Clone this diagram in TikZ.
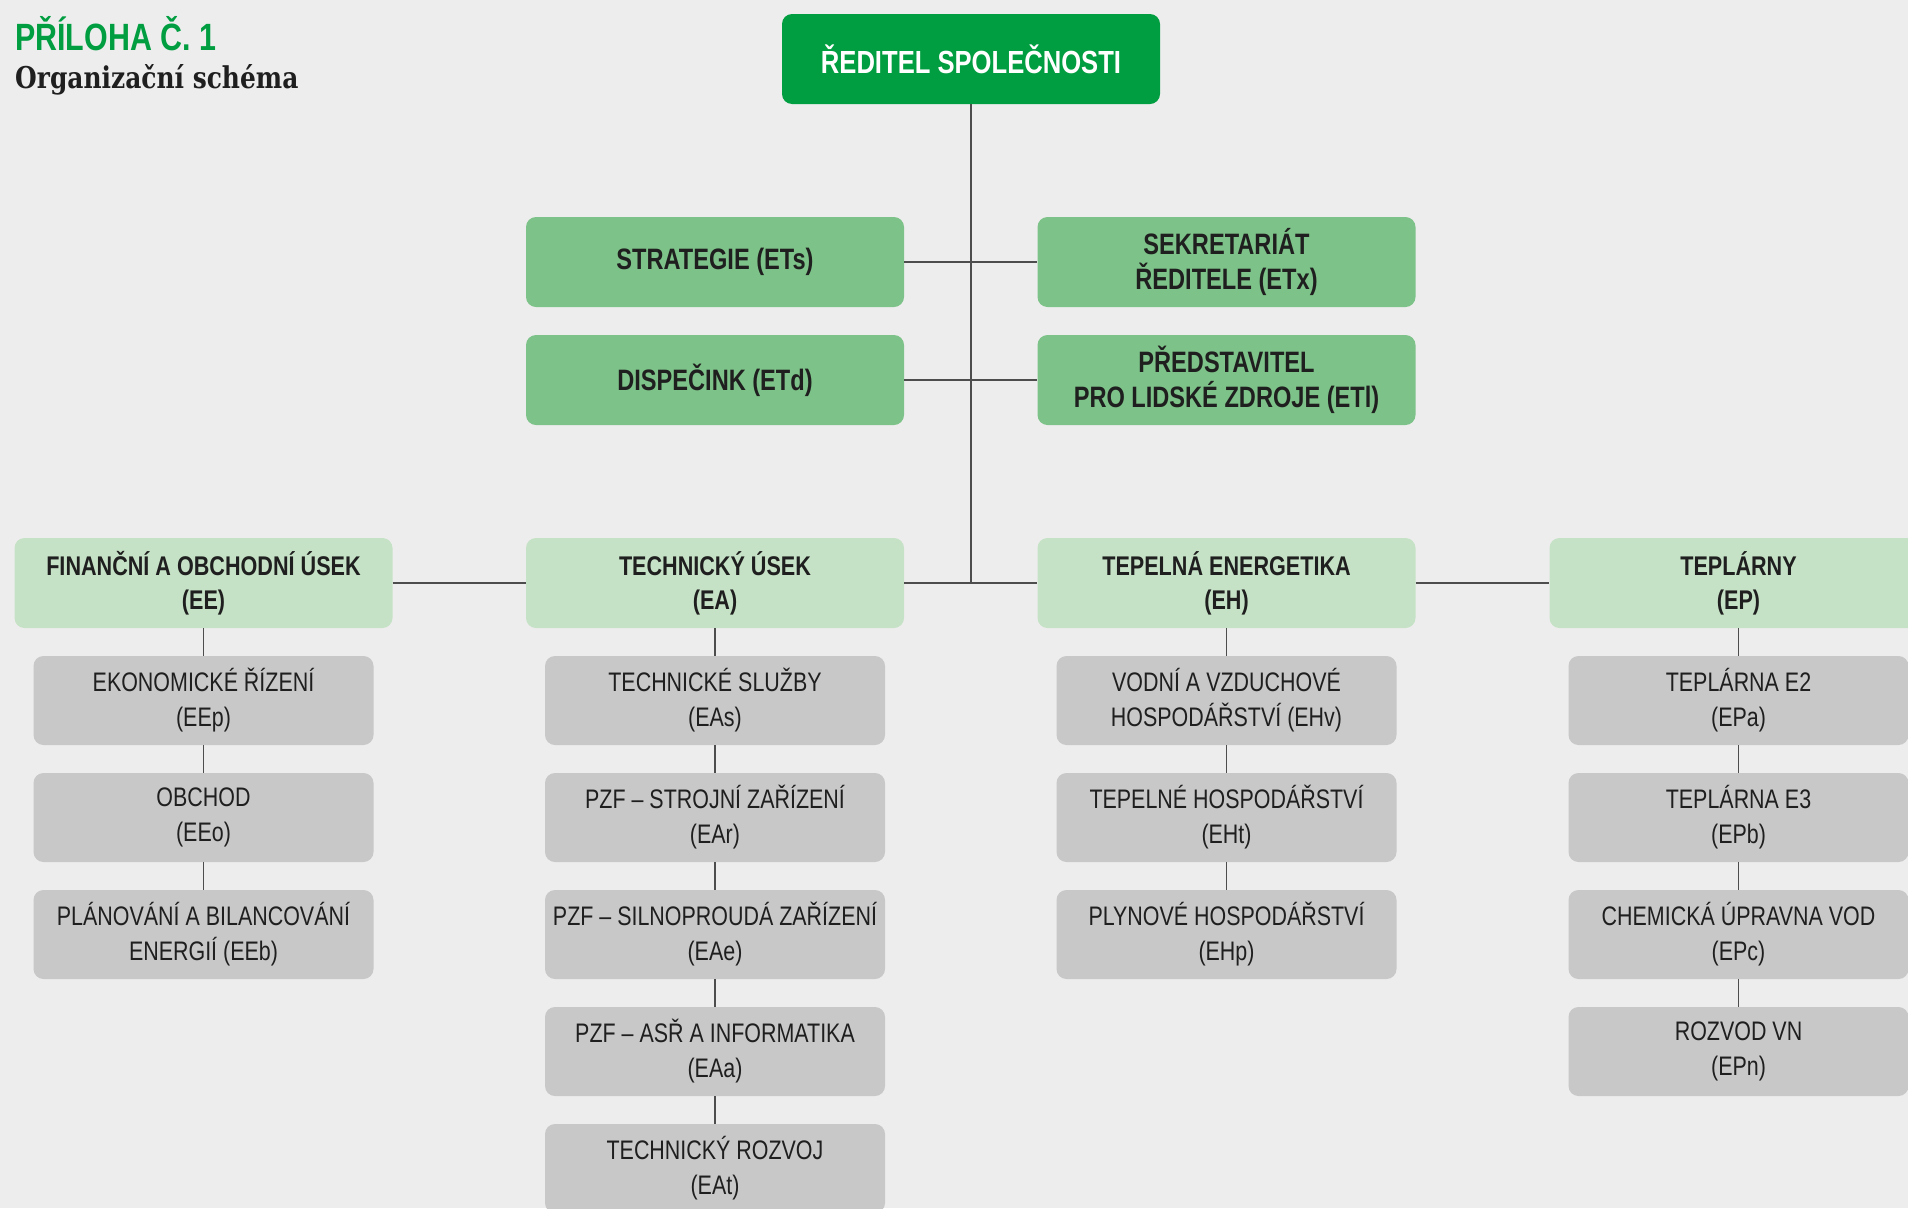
\documentclass[tikz,border=0pt]{standalone}
\usepackage{fontspec}
\setmainfont[FakeStretch=0.8]{Liberation Sans}
\newfontfamily\slabfont[FakeStretch=0.83]{DejaVu Serif}
\definecolor{bgc}{HTML}{EDEDED}
\definecolor{dgreen}{HTML}{009E40}
\definecolor{mgreen}{HTML}{7DC288}
\definecolor{lgreen}{HTML}{C6E2C6}
\definecolor{boxgrey}{HTML}{C8C8C8}
\definecolor{txt}{HTML}{1F1F1F}
\definecolor{linec}{HTML}{4D4D4D}
\tikzset{
  base/.style={rectangle, rounded corners=10pt, align=center, inner sep=0pt, text=txt},
  topbox/.style={base, fill=dgreen, text=white, minimum width=378pt, minimum height=90pt,
    font=\fontsize{32}{38}\selectfont\bfseries},
  lvlone/.style={base, fill=mgreen, minimum width=378pt, minimum height=90pt,
    font=\fontsize{29.5}{35}\selectfont\bfseries},
  lvltwo/.style={base, fill=lgreen, minimum width=378pt, minimum height=90pt,
    font=\fontsize{27}{34}\selectfont\bfseries},
  lvlthree/.style={base, fill=boxgrey, minimum width=340pt, minimum height=89pt,
    font=\fontsize{26.8}{35}\selectfont},
  conn/.style={draw=linec, line width=1.3pt}
}
\begin{document}
\begin{tikzpicture}[x=1pt, y=-1pt]
\useasboundingbox (0,0) rectangle (1908,1208);
\clip (0,0) rectangle (1908,1208);
\fill[bgc] (0,0) rectangle (1908,1208);

% titles
\node[anchor=base west, inner sep=0pt, text=dgreen, font=\fontsize{38}{44}\selectfont\bfseries] (title) at (15,50) {PŘÍLOHA Č. 1};
\node[anchor=base west, inner sep=0pt, text=txt, font=\fontsize{30}{36}\selectfont\slabfont\bfseries] (subtitle) at (15,88) {Organizační schéma};

% top
\node[topbox] (top) at (971,59) {ŘEDITEL SPOLEČNOSTI};

% staff
\node[lvlone] (strat) at (715,262) {STRATEGIE (ETs)};
\node[lvlone] (sekr) at (1226.5,262) {SEKRETARIÁT\\ŘEDITELE (ETx)};
\node[lvlone] (disp) at (715,380) {DISPEČINK (ETd)};
\node[lvlone] (pred) at (1226.5,380) {PŘEDSTAVITEL\\PRO LIDSKÉ ZDROJE (ETl)};

% divisions
\node[lvltwo] (fin) at (203.5,583) {FINANČNÍ A OBCHODNÍ ÚSEK\\(EE)};
\node[lvltwo] (tech) at (715,583) {TECHNICKÝ ÚSEK\\(EA)};
\node[lvltwo] (tepel) at (1226.5,583) {TEPELNÁ ENERGETIKA\\(EH)};
\node[lvltwo] (tepl) at (1738.5,583) {TEPLÁRNY\\(EP)};

\coordinate (junc) at (971,583);

% FIN children
\node[lvlthree] (eep) at (203.5,700.5) {EKONOMICKÉ ŘÍZENÍ\\(EEp)};
\node[lvlthree] (eeo) at (203.5,817.5) {OBCHOD\\(EEo)};
\node[lvlthree] (eeb) at (203.5,934.5) {PLÁNOVÁNÍ A BILANCOVÁNÍ\\ENERGIÍ (EEb)};

% TECH children
\node[lvlthree] (eas) at (715,700.5) {TECHNICKÉ SLUŽBY\\(EAs)};
\node[lvlthree] (ear) at (715,817.5) {PZF – STROJNÍ ZAŘÍZENÍ\\(EAr)};
\node[lvlthree] (eae) at (715,934.5) {PZF – SILNOPROUDÁ ZAŘÍZENÍ\\(EAe)};
\node[lvlthree] (eaa) at (715,1051.5) {PZF – ASŘ A INFORMATIKA\\(EAa)};
\node[lvlthree] (eat) at (715,1168.5) {TECHNICKÝ ROZVOJ\\(EAt)};

% TEPEL children
\node[lvlthree] (ehv) at (1226.5,700.5) {VODNÍ A VZDUCHOVÉ\\HOSPODÁŘSTVÍ (EHv)};
\node[lvlthree] (eht) at (1226.5,817.5) {TEPELNÉ HOSPODÁŘSTVÍ\\(EHt)};
\node[lvlthree] (ehp) at (1226.5,934.5) {PLYNOVÉ HOSPODÁŘSTVÍ\\(EHp)};

% TEPL children
\node[lvlthree] (epa) at (1738.5,700.5) {TEPLÁRNA E2\\(EPa)};
\node[lvlthree] (epb) at (1738.5,817.5) {TEPLÁRNA E3\\(EPb)};
\node[lvlthree] (epc) at (1738.5,934.5) {CHEMICKÁ ÚPRAVNA VOD\\(EPc)};
\node[lvlthree] (epn) at (1738.5,1051.5) {ROZVOD VN\\(EPn)};

% connectors
\draw[conn] (top.south) -- (junc);
\draw[conn] (strat.east) -- (sekr.west);
\draw[conn] (disp.east) -- (pred.west);
\draw[conn] (fin.east) -- (tech.west);
\draw[conn] (tech.east) -- (tepel.west);
\draw[conn] (tepel.east) -- (tepl.west);

\draw[conn] (fin.south) -- (eep.north);
\draw[conn] (eep.south) -- (eeo.north);
\draw[conn] (eeo.south) -- (eeb.north);

\draw[conn] (tech.south) -- (eas.north);
\draw[conn] (eas.south) -- (ear.north);
\draw[conn] (ear.south) -- (eae.north);
\draw[conn] (eae.south) -- (eaa.north);
\draw[conn] (eaa.south) -- (eat.north);

\draw[conn] (tepel.south) -- (ehv.north);
\draw[conn] (ehv.south) -- (eht.north);
\draw[conn] (eht.south) -- (ehp.north);

\draw[conn] (tepl.south) -- (epa.north);
\draw[conn] (epa.south) -- (epb.north);
\draw[conn] (epb.south) -- (epc.north);
\draw[conn] (epc.south) -- (epn.north);
\end{tikzpicture}
\end{document}
